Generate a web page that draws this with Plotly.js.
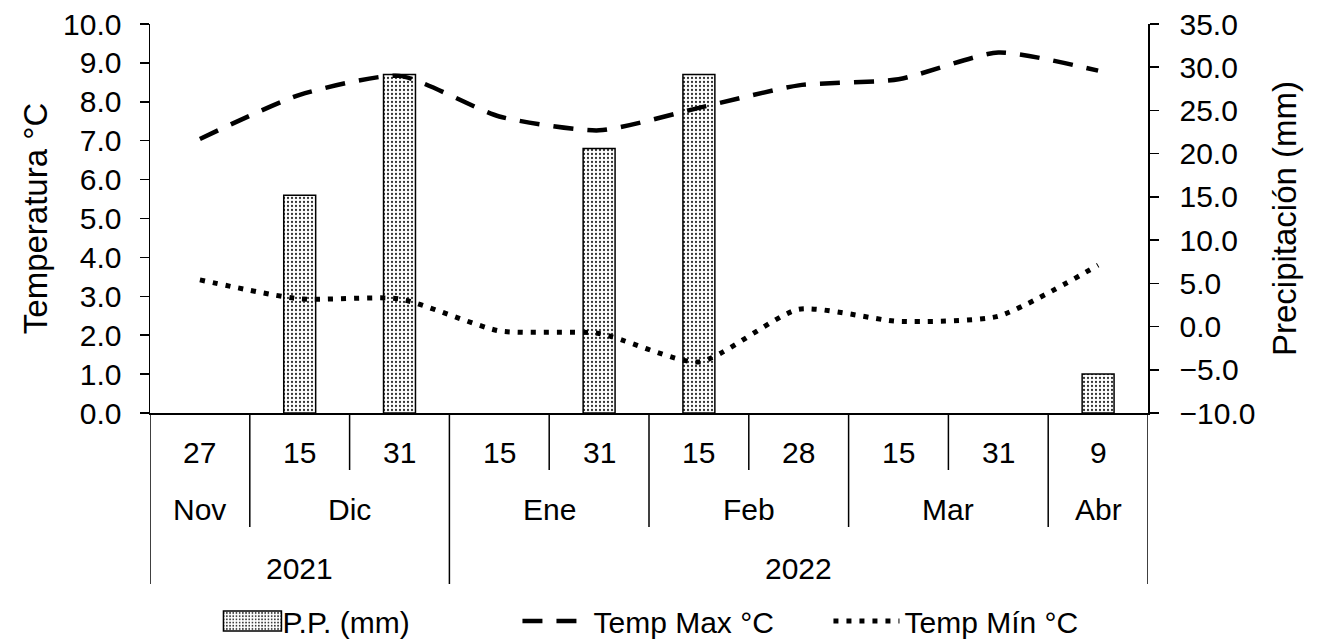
<!DOCTYPE html>
<html>
<head>
<meta charset="utf-8">
<script src="https://cdn.plot.ly/plotly-3.0.1.min.js"></script>
<style>
  html, body { margin: 0; padding: 0; background: #ffffff; }
  #chart { width: 1322px; height: 641px; }
</style>
</head>
<body>
<div id="chart"></div>
<script>
// ---- data ----
const days   = ['27', '15', '31', '15', '31', '15', '28', '15', '31', '9'];
const months = ['Nov', 'Dic', 'Dic', 'Ene', 'Ene', 'Feb', 'Feb', 'Mar', 'Mar', 'Abr'];
const years  = ['2021', '2021', '2021', '2022', '2022', '2022', '2022', '2022', '2022', '2022'];
const precip = [null, 5.6, 8.7, null, 6.8, 8.7, null, null, null, 1.0];
const tempMax = [21.7, 26.8, 29.0, 24.3, 22.7, 25.3, 27.9, 28.6, 31.7, 29.6];
const tempMin = [5.4, 3.2, 3.2, -0.5, -0.8, -4.1, 2.0, 0.6, 1.2, 7.1];

// ---- layout constants ----
const W = 1322, H = 641;
const M = { l: 150, r: 174, t: 24, b: 228, autoexpand: false };
const plotH = H - M.t - M.b;
const FONT = 'Liberation Sans, Arial, sans-serif';
const FS = 30;
const TFS = 33;
const px = p => -p / plotH;   // pixels below the x axis -> paper units

const xs = days.map((_, i) => i);

// separator lines for the 3-level category axis
const shapes = [];
for (let b = 0; b <= days.length; b++) {
  let len;
  if (b === 0 || b === days.length || years[b] !== years[b - 1]) len = 171;
  else if (months[b] !== months[b - 1]) len = 114;
  else len = 57;
  shapes.push({
    type: 'line', xref: 'x', yref: 'paper',
    x0: b - 0.5, x1: b - 0.5, y0: 0, y1: px(len),
    line: { color: '#000', width: 1.5 }
  });
}

// labels: days, months (grouped), years (grouped)
const annotations = [];
const lblFont = { family: FONT, size: FS, color: '#000' };
days.forEach((d, i) => annotations.push({
  x: i, y: px(39), xref: 'x', yref: 'paper', text: d, showarrow: false,
  xanchor: 'center', yanchor: 'middle', font: lblFont
}));
function groups(arr) {
  const g = [];
  arr.forEach((v, i) => {
    if (g.length && g[g.length - 1].v === v) g[g.length - 1].end = i;
    else g.push({ v, start: i, end: i });
  });
  return g;
}
groups(months).forEach(g => annotations.push({
  x: (g.start + g.end) / 2, y: px(97), xref: 'x', yref: 'paper', text: g.v, showarrow: false,
  xanchor: 'center', yanchor: 'middle', font: lblFont
}));
groups(years).forEach(g => annotations.push({
  x: (g.start + g.end) / 2, y: px(155), xref: 'x', yref: 'paper', text: g.v, showarrow: false,
  xanchor: 'center', yanchor: 'middle', font: lblFont
}));

const traces = [
  {
    type: 'bar', name: 'P.P. (mm)', x: xs, y: precip, yaxis: 'y', width: 0.32,
    marker: {
      color: '#ffffff',
      line: { color: '#000', width: 1.5 },
      pattern: { shape: '.', fgcolor: '#333333', bgcolor: '#ffffff', size: 4, solidity: 0.25, fillmode: 'replace' }
    },
    hoverinfo: 'skip'
  },
  {
    type: 'scatter', mode: 'lines', name: 'Temp Max °C', x: xs, y: tempMax, yaxis: 'y2',
    line: { color: '#000', width: 4.5, dash: '20px,14px', shape: 'spline', smoothing: 0.6 },
    hoverinfo: 'skip'
  },
  {
    type: 'scatter', mode: 'lines', name: 'Temp Mín °C', x: xs, y: tempMin, yaxis: 'y2',
    line: { color: '#000', width: 5, dash: '5px,8px', shape: 'spline', smoothing: 0.6 },
    hoverinfo: 'skip'
  }
];

const axisCommon = {
  showgrid: false, zeroline: false, showline: true, linecolor: '#000', linewidth: 1.5,
  ticks: 'outside', ticklen: 9, tickwidth: 1.5, tickcolor: '#000',
  tickfont: lblFont, tickformat: '.1f', automargin: false
};

const layout = {
  width: W, height: H,
  margin: M,
  paper_bgcolor: '#fff', plot_bgcolor: '#fff',
  font: { family: FONT, size: FS, color: '#000' },
  bargap: 0,
  showlegend: true,
  legend: {
    orientation: 'h', x: 0.524, xanchor: 'center', y: px(208), yanchor: 'middle',
    font: lblFont, itemwidth: 66, entrywidth: 230, bgcolor: 'rgba(0,0,0,0)'
  },
  xaxis: {
    range: [-0.5, days.length - 0.5], showticklabels: false, ticks: '',
    showline: true, linecolor: '#000', linewidth: 1.5, showgrid: false, zeroline: false, fixedrange: true
  },
  yaxis: Object.assign({}, axisCommon, {
    range: [0, 10], dtick: 1, tick0: 0, ticklabelstandoff: 12,
    title: { text: 'Temperatura °C', font: { family: FONT, size: TFS, color: '#000' }, standoff: 5 }
  }),
  yaxis2: Object.assign({}, axisCommon, {
    range: [-10, 35], dtick: 5, tick0: -10, overlaying: 'y', side: 'right', ticklabelstandoff: 15,
    title: { text: 'Precipitación (mm)', font: { family: FONT, size: TFS, color: '#000' }, standoff: 18 }
  }),
  shapes: shapes,
  annotations: annotations
};

Plotly.newPlot('chart', traces, layout, { displayModeBar: false, staticPlot: true }).then(gd => {
  // widen the bar legend swatch to a rectangle like the reference
  const sw = gd.querySelectorAll('.legend .traces .legendpoints path.legendbar, .legend .traces .legendpoints path.legendundefined');
  sw.forEach(p => p.setAttribute('d', 'M-21,-10H37V10H-21Z'));
});
</script>
</body>
</html>
